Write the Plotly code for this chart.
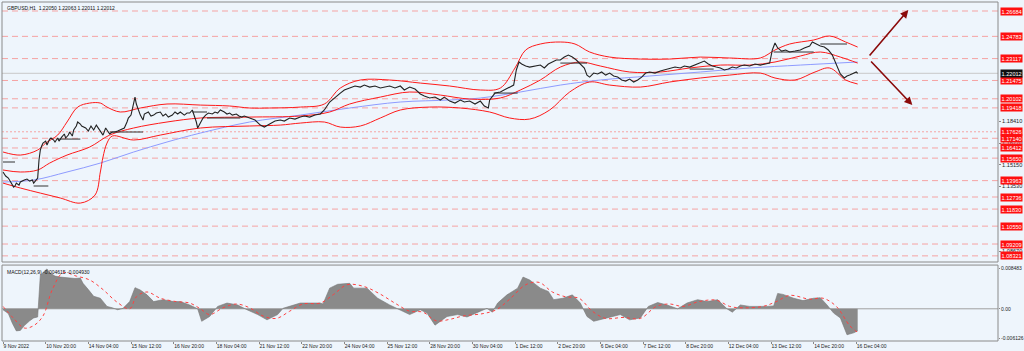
import plotly.graph_objects as go

# ---------------- data (bar index = H1 bar number from 9 Nov 2022) ----------------
close_bar = [0,2,4,6,8,9,10,12,13,16,18,20,22,23,25,26,27,28,29,30,32,33,35,36,38,39,41,42,44,46,47,49,50,52,53,55,56,58,59,62,64,66,68,70,73,75,77,80,82,84,86,88,91,93,94,96,97,98,99,100,101,102,103,105,106,109,111,113,115,118,120,122,124,127,129,131,133,136,138,140,142,145,146,148,150,152,154,157,159,161,163,166,168,170,172,175,177,179,181,185,189,193,196,200,204,208,211,215,219,223,226,230,234,238,241,245,249,253,256,260,264,268,271,275,279,283,286,290,294,298,301,305,309,313,316,320,324,328,331,335,339,343,346,350,354,358,361,364,365,369,373,376,380,383,385,387,389,392,395,399,403,406,409,412,415,418,421,424,427,430,433,436,438,440,443,446,449,452,455,458,461,464,467,470,473,476,479,482,485,489,493,496,500,504,508,511,515,519,523,526,529,532,535,538,541,544,547,550,553,556,560,564,568,571,575,577,579,581,584,587,590,594,598,601,605,607,610,613,616,619,622,624,626,628,631,633,635,637,640,641]
close_px = [1.1461,1.1431,1.1416,1.1378,1.1348,1.1356,1.1378,1.1363,1.1386,1.1401,1.1408,1.1393,1.1401,1.1378,1.1401,1.1416,1.1551,1.1626,1.1656,1.1678,1.1693,1.1663,1.1708,1.1716,1.1701,1.1686,1.1716,1.1693,1.1723,1.1746,1.1716,1.1738,1.1761,1.1731,1.1776,1.1806,1.1836,1.1821,1.1806,1.1791,1.1768,1.1806,1.1776,1.1813,1.1768,1.1738,1.1791,1.1746,1.1761,1.1761,1.1768,1.1776,1.1791,1.1836,1.1866,1.1888,1.1926,1.1978,1.2023,1.1971,1.1941,1.1903,1.1888,1.1851,1.1896,1.1911,1.1881,1.1888,1.1903,1.1911,1.1881,1.1896,1.1873,1.1888,1.1911,1.1896,1.1911,1.1888,1.1903,1.1903,1.1926,1.1836,1.1791,1.1828,1.1866,1.1888,1.1903,1.1896,1.1911,1.1903,1.1926,1.1911,1.1896,1.1903,1.1888,1.1896,1.1881,1.1873,1.1881,1.1866,1.1851,1.1813,1.1798,1.1821,1.1843,1.1851,1.1843,1.1866,1.1858,1.1873,1.1881,1.1873,1.1888,1.1896,1.1926,1.1986,1.2023,1.2053,1.2076,1.2091,1.2106,1.2098,1.2113,1.2098,1.2106,1.2091,1.2098,1.2106,1.2091,1.2106,1.2076,1.2098,1.2083,1.2046,1.2031,1.2016,1.2023,1.2001,1.2023,1.1993,1.1978,1.2001,1.1986,1.1993,1.1971,1.1993,1.1956,1.1941,1.2001,1.2053,1.2061,1.2076,1.2098,1.2113,1.2226,1.2286,1.2271,1.2256,1.2248,1.2256,1.2263,1.2241,1.2271,1.2286,1.2301,1.2301,1.2323,1.2338,1.2323,1.2301,1.2271,1.2241,1.2188,1.2173,1.2203,1.2196,1.2211,1.2188,1.2203,1.2181,1.2173,1.2151,1.2143,1.2158,1.2136,1.2151,1.2173,1.2203,1.2211,1.2203,1.2218,1.2226,1.2241,1.2248,1.2241,1.2256,1.2248,1.2263,1.2278,1.2293,1.2271,1.2256,1.2248,1.2241,1.2226,1.2233,1.2248,1.2241,1.2256,1.2263,1.2256,1.2271,1.2263,1.2271,1.2278,1.2376,1.2428,1.2391,1.2368,1.2376,1.2361,1.2368,1.2376,1.2391,1.2406,1.2436,1.2421,1.2406,1.2398,1.2376,1.2338,1.2286,1.2241,1.2196,1.2166,1.2181,1.2188,1.2196,1.2211,1.2201]

bb_up_bar = [0,13,26,32,41,48,56,65,73,78,88,103,123,148,170,185,200,223,241,253,268,290,313,335,358,373,384,392,403,418,429,440,455,478,500,523,545,568,579,590,608,620,632,641]
bb_up_px = [1.1611,1.1588,1.1626,1.1678,1.1738,1.1836,1.1948,1.1978,1.1978,1.1948,1.1911,1.1941,1.1971,1.1963,1.1956,1.1941,1.1941,1.1948,1.1971,1.2091,1.2151,1.2151,1.2128,1.2106,1.2076,1.2091,1.2241,1.2376,1.2421,1.2436,1.2421,1.2361,1.2323,1.2308,1.2308,1.2323,1.2316,1.2316,1.2376,1.2421,1.2451,1.2481,1.2436,1.2398]

bb_lo_bar = [0,13,28,43,58,69,73,75,78,82,98,118,148,185,208,223,241,253,268,283,298,320,343,365,380,395,410,425,440,455,478,500,523,545,568,579,594,609,620,632,641]
bb_lo_px = [1.1378,1.1341,1.1303,1.1266,1.1228,1.1288,1.1461,1.1573,1.1678,1.1731,1.1701,1.1738,1.1791,1.1806,1.1813,1.1828,1.1836,1.1798,1.1806,1.1866,1.1926,1.1948,1.1941,1.1911,1.1866,1.1858,1.1926,1.2061,1.2136,1.2113,1.2098,1.2136,1.2166,1.2188,1.2203,1.2166,1.2151,1.2211,1.2241,1.2151,1.2121]

bb_mid_bar = [0,13,26,35,48,65,80,98,123,148,185,223,245,260,283,305,328,350,373,388,403,418,433,448,470,493,515,538,560,579,598,613,628,641]
bb_mid_px = [1.1476,1.1461,1.1476,1.1528,1.1588,1.1648,1.1738,1.1791,1.1836,1.1866,1.1873,1.1881,1.1911,1.1971,1.2023,1.2061,1.2038,1.2008,1.2016,1.2076,1.2151,1.2248,1.2286,1.2256,1.2211,1.2211,1.2241,1.2263,1.2263,1.2286,1.2331,1.2361,1.2323,1.2278]

ma_bar = [0,23,48,73,98,123,148,185,223,260,298,335,358,388,418,448,485,523,560,598,641]
ma_px = [1.1386,1.1401,1.1461,1.1528,1.1611,1.1686,1.1753,1.1836,1.1888,1.1941,1.1986,1.2001,1.2016,1.2061,1.2113,1.2151,1.2181,1.2211,1.2241,1.2263,1.2286]

# horizontal black segment objects
seg_bar0 = [0,23,41,80,142,153,368,418,515,578,613]
seg_bar1 = [9,34,58,105,153,178,386,438,533,608,633]
seg_px = [1.1536,1.1356,1.1708,1.1761,1.1911,1.1866,1.2053,1.2278,1.2233,1.2361,1.2421]

# MACD
macd_bar = [0,4,7,10,13,16,20,23,26,28,31,33,35,39,43,48,54,58,60,64,68,73,78,82,86,90,95,99,103,108,113,120,128,133,140,146,149,155,161,168,176,183,191,198,206,210,218,223,238,240,245,251,260,263,273,281,290,298,305,313,318,324,333,341,348,358,363,367,371,378,386,390,395,403,409,413,420,427,433,438,443,453,463,470,478,484,491,498,506,513,521,528,536,543,547,553,560,573,578,581,585,593,600,608,613,618,623,628,633,638,641]
macd_val = [-0.0002,-0.0010,-0.0030,-0.0046,-0.0045,-0.0035,-0.0025,-0.0019,-0.0017,0.0070,0.0078,0.0083,0.0075,0.0068,0.0066,0.0064,0.0063,0.0064,0.0053,0.0040,0.0026,0.0022,0.0005,0.0002,-0.0002,0.0001,0.0015,0.0044,0.0039,0.0029,0.0015,0.0019,0.0015,0.0015,0.0008,0.0000,-0.0026,-0.0016,0.0005,0.0012,0.0008,-0.0002,-0.0012,-0.0023,-0.0012,0.0001,0.0008,0.0012,0.0012,0.0010,0.0043,0.0051,0.0053,0.0043,0.0043,0.0022,0.0008,-0.0002,-0.0012,-0.0002,-0.0009,-0.0034,-0.0016,-0.0012,-0.0017,-0.0005,0.0001,-0.0007,0.0012,0.0029,0.0043,0.0066,0.0060,0.0043,0.0036,0.0019,0.0022,0.0029,0.0012,-0.0016,-0.0026,-0.0019,-0.0012,-0.0023,-0.0019,0.0005,0.0013,0.0008,0.0000,0.0012,0.0019,0.0015,0.0019,0.0000,-0.0007,0.0008,0.0005,0.0005,0.0006,0.0032,0.0030,0.0022,0.0017,0.0022,0.0023,0.0008,-0.0009,-0.0019,-0.0054,-0.0050,-0.0046]
sig_bar = [0,8,16,23,30,37,45,55,65,75,85,95,100,108,118,130,140,148,155,165,175,185,195,205,215,225,238,248,258,270,282,295,305,315,325,335,345,360,370,380,392,402,412,422,432,442,452,465,478,490,500,510,522,535,545,555,570,580,590,605,615,625,635,641]
sig_val = [0.0005,-0.0020,-0.0040,-0.0035,-0.0015,0.0040,0.0075,0.0068,0.0060,0.0040,0.0015,0.0000,0.0025,0.0035,0.0022,0.0015,0.0012,0.0000,-0.0012,0.0002,0.0010,0.0002,-0.0015,-0.0020,-0.0005,0.0010,0.0012,0.0030,0.0050,0.0047,0.0032,0.0010,-0.0005,-0.0007,-0.0025,-0.0022,-0.0015,-0.0010,-0.0002,0.0020,0.0050,0.0055,0.0035,0.0025,0.0022,-0.0005,-0.0020,-0.0018,-0.0020,0.0005,0.0010,0.0005,0.0015,0.0018,0.0005,0.0002,0.0005,0.0015,0.0028,0.0020,0.0022,0.0005,-0.0035,-0.0049]

# levels (right-axis labels)
red_levels = [1.26684,1.24783,1.23117,1.21475,1.20102,1.19418,1.17626,1.17140,1.16412,1.15650,1.13963,1.12736,1.11830,1.10550,1.09209,1.08321]
plain_ticks = [1.18410,1.16770,1.15150,1.13530,1.08670]
bid_price = 1.22012

# x tick labels
xtick_bar = [0,32,64,96,128,160,192,224,256,288,320,352,384,416,448,480,512,544,576,608,640]
xtick_text = ["9 Nov 2022","10 Nov 20:00","14 Nov 04:00","15 Nov 12:00","16 Nov 20:00","18 Nov 04:00",
              "21 Nov 12:00","22 Nov 20:00","24 Nov 04:00","25 Nov 12:00","28 Nov 20:00","30 Nov 04:00",
              "1 Dec 12:00","2 Dec 20:00","6 Dec 04:00","7 Dec 12:00","8 Dec 20:00","12 Dec 04:00",
              "13 Dec 12:00","14 Dec 20:00","16 Dec 04:00"]

# projection arrows (tail -> tip)
arrow_tail_bar = [649, 650]
arrow_tail_px = [1.2323, 1.2301]
arrow_tip_bar = [679, 682]
arrow_tip_px = [1.2676, 1.1963]

# ---------------- figure ----------------
FONT = "Liberation Sans"
BG = "#EEF5FC"
FS_R = 5.6   # right axis labels
FS_M = 5.0   # MACD axis labels
FS_X = 5.0   # bottom time labels
FS_T = 5.0   # titles
fig = go.Figure()

fig.add_trace(go.Scatter(x=ma_bar, y=ma_px, mode="lines", line=dict(color="#8E9BFF", width=1), line_shape="spline", hoverinfo="skip"))
for bx, by in [(bb_up_bar, bb_up_px), (bb_lo_bar, bb_lo_px), (bb_mid_bar, bb_mid_px)]:
    fig.add_trace(go.Scatter(x=bx, y=by, mode="lines", line=dict(color="#FF1A1A", width=1), line_shape="spline", hoverinfo="skip"))

sx, sy = [], []
for a, b, p in zip(seg_bar0, seg_bar1, seg_px):
    sx += [a, b, None]
    sy += [p, p, None]
fig.add_trace(go.Scatter(x=sx, y=sy, mode="lines", line=dict(color="#333333", width=1), hoverinfo="skip"))

fig.add_trace(go.Scatter(x=close_bar, y=close_px, mode="lines", line=dict(color="#222222", width=1.1), hoverinfo="skip"))

fig.add_trace(go.Scatter(x=macd_bar, y=macd_val, mode="lines", fill="tozeroy", fillcolor="#8A8A8A",
                         line=dict(color="#777777", width=0.6), yaxis="y2", hoverinfo="skip"))
fig.add_trace(go.Scatter(x=sig_bar, y=sig_val, mode="lines", line=dict(color="#FF4040", width=1, dash="dot"),
                         line_shape="spline", yaxis="y2", hoverinfo="skip"))

shapes = []
for lv in red_levels:
    dash = "2px,2px" if abs(lv - 1.17626) < 1e-6 else "6px,4px"
    shapes.append(dict(type="line", xref="paper", x0=0, x1=1, yref="y", y0=lv, y1=lv,
                       line=dict(color="#F5A3A3", width=1, dash=dash), layer="below"))
shapes.append(dict(type="line", xref="paper", x0=0, x1=1, yref="y", y0=bid_price, y1=bid_price,
                   line=dict(color="#C8C8C8", width=1), layer="below"))
shapes.append(dict(type="line", xref="paper", x0=0, x1=1, yref="y2", y0=0, y1=0,
                   line=dict(color="#A0A0A0", width=1), layer="below"))
MAIN_BOT = 0.233
MACD_TOP = 0.224
shapes.append(dict(type="rect", xref="paper", yref="paper", x0=0, x1=1, y0=MAIN_BOT, y1=1,
                   line=dict(color="#8A8A8A", width=1)))
shapes.append(dict(type="rect", xref="paper", yref="paper", x0=0, x1=1, y0=0, y1=MACD_TOP,
                   line=dict(color="#8A8A8A", width=1)))

annotations = []
for lv in red_levels:
    annotations.append(dict(xref="paper", x=1, xanchor="left", xshift=2, yref="y", y=lv, yanchor="middle",
                            text=f"{lv:.5f}", showarrow=False, bgcolor="#FF1010", borderpad=0.5,
                            font=dict(family=FONT, size=FS_R, color="white")))
annotations.append(dict(xref="paper", x=1, xanchor="left", xshift=2, yref="y", y=bid_price, yanchor="middle",
                        text=f"{bid_price:.5f}", showarrow=False, bgcolor="#111111", borderpad=0.5,
                        font=dict(family=FONT, size=FS_R, color="white")))
for tb, tp, hb, hp in zip(arrow_tail_bar, arrow_tail_px, arrow_tip_bar, arrow_tip_px):
    annotations.append(dict(xref="x", yref="y", axref="x", ayref="y", x=hb, y=hp, ax=tb, ay=tp,
                            text="", showarrow=True, arrowhead=2, arrowsize=1, arrowwidth=1.6,
                            arrowcolor="#8B0A0A"))
annotations.append(dict(xref="paper", yref="paper", x=0.003, y=0.997, xanchor="left", yanchor="top",
                        text="GBPUSD,H1  1.22050 1.22063 1.22011 1.22012", showarrow=False,
                        font=dict(family=FONT, size=FS_T, color="#111111")))
annotations.append(dict(xref="paper", yref="paper", x=0.003, y=MACD_TOP - 0.006, xanchor="left", yanchor="top",
                        text="MACD(12,26,9) -0.004615 -0.004930", showarrow=False,
                        font=dict(family=FONT, size=FS_T, color="#111111")))

fig.update_layout(
    width=1024, height=351,
    margin=dict(l=2, r=26, t=2, b=10, autoexpand=False),
    paper_bgcolor=BG, plot_bgcolor=BG,
    showlegend=False,
    font=dict(family=FONT, size=FS_X, color="#222222"),
    shapes=shapes, annotations=annotations,
    xaxis=dict(range=[-0.75, 746.25], anchor="y2", showgrid=False, zeroline=False,
               tickmode="array", tickvals=xtick_bar, ticktext=xtick_text, tickangle=0, automargin=False,
               ticks="outside", ticklen=2, tickcolor="#888", ticklabelposition="outside right",
               tickfont=dict(family=FONT, size=FS_X, color="#222"), showline=False),
    yaxis=dict(domain=[MAIN_BOT, 1], range=[1.0786, 1.2736], side="right", showgrid=False, zeroline=False,
               tickmode="array", tickvals=plain_ticks, ticktext=[f"{v:.5f}" for v in plain_ticks],
               ticks="outside", ticklen=2, tickcolor="#888", tickfont=dict(family=FONT, size=FS_R, color="#222"),
               showline=False, automargin=False),
    yaxis2=dict(domain=[0, MACD_TOP], range=[-0.0067, 0.0091], side="right", showgrid=False, zeroline=False,
                tickmode="array", tickvals=[0.008483, 0, -0.006126], ticktext=["0.008483", "0.00", "-0.006126"],
                ticks="outside", ticklen=1, tickcolor="#888", tickfont=dict(family=FONT, size=FS_M, color="#222"),
                showline=False, automargin=False),
)

fig.write_html("out.html")
